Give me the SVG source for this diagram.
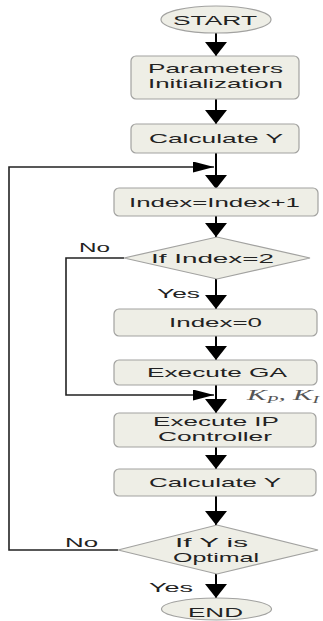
<svg xmlns="http://www.w3.org/2000/svg" width="323" height="621" viewBox="0 0 323 621">
<style>
.n{fill:#eeeee6;stroke:#a2a2a0;stroke-width:1.2}
.t{font-family:"Liberation Sans",Arial,sans-serif;font-size:13px;fill:#222}
.c{fill:none;stroke:#000;stroke-width:2}
.f{fill:none;stroke:#222;stroke-width:1.6}
.k{font-family:"Liberation Serif","Times New Roman",serif;font-style:italic;font-size:15px;fill:#555}
</style>
<defs>
<marker id="ad" markerUnits="userSpaceOnUse" viewBox="0 0 14 22" refX="14" refY="11" markerWidth="14" markerHeight="22" orient="auto">
<path d="M0,0 L14,11 L0,22 z" fill="#000"/>
</marker>
<marker id="ah" markerUnits="userSpaceOnUse" viewBox="0 0 21 11" refX="21" refY="5.5" markerWidth="21" markerHeight="11" orient="auto">
<path d="M0,0 L21,5.5 L0,11 z" fill="#000"/>
</marker>
</defs>
<g id="connectors">
<line class="c" x1="216" y1="33" x2="216" y2="56" marker-end="url(#ad)"/>
<line class="c" x1="216" y1="99" x2="216" y2="124" marker-end="url(#ad)"/>
<line class="c" x1="216" y1="153" x2="216" y2="189" marker-end="url(#ad)"/>
<line class="c" x1="216" y1="216" x2="216" y2="237" marker-end="url(#ad)"/>
<line class="c" x1="216" y1="279" x2="216" y2="309" marker-end="url(#ad)"/>
<line class="c" x1="216" y1="336" x2="216" y2="360" marker-end="url(#ad)"/>
<line class="c" x1="216" y1="385" x2="216" y2="413" marker-end="url(#ad)"/>
<line class="c" x1="216" y1="447" x2="216" y2="469" marker-end="url(#ad)"/>
<line class="c" x1="216" y1="496" x2="216" y2="525" marker-end="url(#ad)"/>
<line class="c" x1="216" y1="574" x2="216" y2="598" marker-end="url(#ad)"/>
<polyline class="f" points="124,258 66,258 66,395 214,395" marker-end="url(#ah)"/>
<polyline class="f" points="118,550 9,550 9,167 214,167" marker-end="url(#ah)"/>
<text class="t" x="79" y="252" textLength="31" lengthAdjust="spacingAndGlyphs">No</text>
<text class="t" x="157" y="298" textLength="43" lengthAdjust="spacingAndGlyphs">Yes</text>
<text class="t" x="65" y="547" textLength="33" lengthAdjust="spacingAndGlyphs">No</text>
<text class="t" x="149" y="592" textLength="44" lengthAdjust="spacingAndGlyphs">Yes</text>
<text class="k" x="247" y="400" textLength="72" lengthAdjust="spacingAndGlyphs">K<tspan font-size="10" dy="3">P</tspan><tspan dy="-3">, K</tspan><tspan font-size="10" dy="3">I</tspan></text>
</g>
<g id="start">
<ellipse class="n" cx="216" cy="19.5" rx="55" ry="13.5"/>
<text class="t" x="173" y="25" textLength="84" lengthAdjust="spacingAndGlyphs">START</text>
</g>
<g id="params">
<rect class="n" x="131" y="56" width="168" height="43" rx="5"/>
<text class="t" x="148" y="73" textLength="135" lengthAdjust="spacingAndGlyphs">Parameters</text>
<text class="t" x="148" y="88" textLength="135" lengthAdjust="spacingAndGlyphs">Initialization</text>
</g>
<g id="calc1">
<rect class="n" x="131" y="124" width="168" height="29" rx="5"/>
<text class="t" x="149" y="143" textLength="134" lengthAdjust="spacingAndGlyphs">Calculate Y</text>
</g>
<g id="inc">
<rect class="n" x="114" y="188" width="204" height="28" rx="5"/>
<text class="t" x="129" y="207" textLength="171" lengthAdjust="spacingAndGlyphs">Index=Index+1</text>
</g>
<g id="dec1">
<polygon class="n" points="124,258 217,237 310,258 217,279"/>
<text class="t" x="151" y="263" textLength="123" lengthAdjust="spacingAndGlyphs">If Index=2</text>
</g>
<g id="reset">
<rect class="n" x="114" y="309" width="203" height="27" rx="5"/>
<text class="t" x="169" y="327" textLength="93" lengthAdjust="spacingAndGlyphs">Index=0</text>
</g>
<g id="ga">
<rect class="n" x="114" y="360" width="203" height="25" rx="5"/>
<text class="t" x="147" y="377" textLength="140" lengthAdjust="spacingAndGlyphs">Execute GA</text>
</g>
<g id="ip">
<rect class="n" x="114" y="413" width="202" height="34" rx="5"/>
<text class="t" x="153" y="426" textLength="126" lengthAdjust="spacingAndGlyphs">Execute IP</text>
<text class="t" x="158" y="441" textLength="114" lengthAdjust="spacingAndGlyphs">Controller</text>
</g>
<g id="calc2">
<rect class="n" x="114" y="469" width="202" height="27" rx="5"/>
<text class="t" x="149" y="487" textLength="132" lengthAdjust="spacingAndGlyphs">Calculate Y</text>
</g>
<g id="dec2">
<polygon class="n" points="118,550 217,525 318,550 217,574"/>
<text class="t" x="175" y="547" textLength="73" lengthAdjust="spacingAndGlyphs">If Y is</text>
<text class="t" x="173" y="562" textLength="86" lengthAdjust="spacingAndGlyphs">Optimal</text>
</g>
<g id="end">
<ellipse class="n" cx="216.5" cy="609" rx="55" ry="11"/>
<text class="t" x="188" y="617" textLength="55" lengthAdjust="spacingAndGlyphs">END</text>
</g>
</svg>
